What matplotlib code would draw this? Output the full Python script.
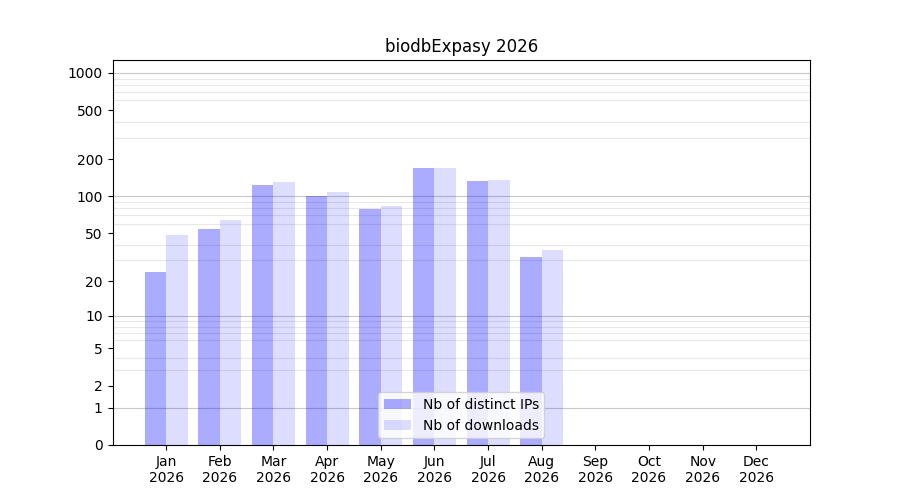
import numpy as np
import matplotlib
matplotlib.use("Agg")
import matplotlib.pyplot as plt
from matplotlib.ticker import FixedLocator, NullFormatter

months = ["Jan", "Feb", "Mar", "Apr", "May", "Jun", "Jul", "Aug", "Sep", "Oct", "Nov", "Dec"]
year = "2026"
ips = [24, 54, 124, 100, 79, 170, 133, 32]
downloads = [48, 64, 131, 109, 84, 170, 136, 36]
yticks = [0, 1, 2, 5, 10, 20, 50, 100, 200, 500, 1000]

fig, ax = plt.subplots(figsize=(9, 5), dpi=100)

def fwd(y):
    return np.log10(1 + np.clip(y, 0, None))

def inv(y):
    return 10 ** y - 1

ax.set_yscale("function", functions=(fwd, inv))

x = np.arange(len(ips))
w = 0.4
ax.bar(x - w / 2, ips, width=w, color="blue", alpha=0.33, label="Nb of distinct IPs", zorder=2)
ax.bar(x + w / 2, downloads, width=w, color="blue", alpha=0.135, label="Nb of downloads", zorder=2)

ax.set_ylim(0, 1270)
ax.set_xlim(-1.0, 12.0)
ax.yaxis.set_major_locator(FixedLocator(yticks))
ax.set_yticklabels([str(t) for t in yticks])
minors = [m * 10 ** k for k in range(0, 4) for m in range(1, 10) if m * 10 ** k <= 1000]
ax.yaxis.set_minor_locator(FixedLocator(minors))
ax.yaxis.set_minor_formatter(NullFormatter())
ax.tick_params(axis="y", which="minor", length=0)
ax.grid(axis="y", which="minor", color="#e8e8e8", linewidth=0.8, zorder=0)
for d in [1, 10, 100, 1000]:
    ax.axhline(d, color="#c8c8c8", linewidth=0.8, zorder=1)

ax.set_xticks(np.arange(len(months)))
ax.set_xticklabels([f"{m}\n{year}" for m in months])
ax.set_title("biodbExpasy 2026")
ax.legend(loc="lower center")

fig.subplots_adjust(left=0.125, right=0.9, top=0.88, bottom=0.11)
fig.savefig("out.png", dpi=100)
